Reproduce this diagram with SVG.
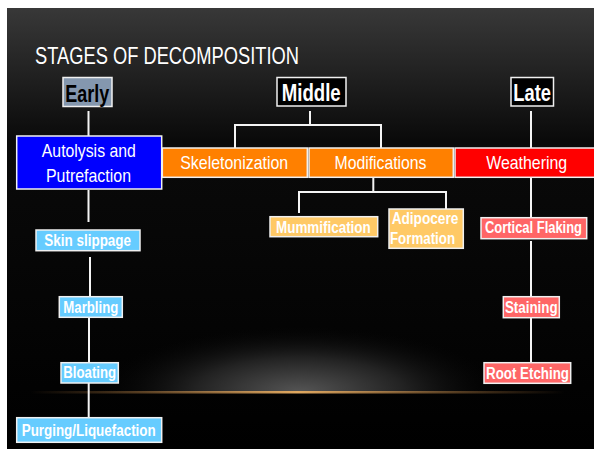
<svg xmlns="http://www.w3.org/2000/svg" width="594" height="449" viewBox="0 0 594 449">
<defs>
<linearGradient id="bgTop" x1="0" y1="0" x2="0" y2="1">
<stop offset="0" stop-color="#383838"/>
<stop offset="0.3" stop-color="#0a0a0a"/>
<stop offset="1" stop-color="#000"/>
</linearGradient>
<radialGradient id="glow" cx="300" cy="392" r="210" gradientUnits="userSpaceOnUse" gradientTransform="translate(300 392) scale(1 0.33) translate(-300 -392)">
<stop offset="0" stop-color="#555"/>
<stop offset="0.5" stop-color="#222"/>
<stop offset="1" stop-color="#000" stop-opacity="0"/>
</radialGradient>
<linearGradient id="gold" x1="0" y1="0" x2="1" y2="0">
<stop offset="0" stop-color="#c08040" stop-opacity="0"/>
<stop offset="0.5" stop-color="#e0a860"/>
<stop offset="1" stop-color="#c08040" stop-opacity="0"/>
</linearGradient>
<clipPath id="above"><rect x="7" y="8" width="587" height="384"/></clipPath>
<style>
.box{stroke:#f0f0f0;stroke-width:1.5}
.conn path{fill:none;stroke:#f4f4f4;stroke-width:2}
text{font-family:"Liberation Sans",Arial,sans-serif;fill:#fff;text-anchor:middle}
.hdr{font-weight:bold;font-size:23px}
.lvl2{font-size:19px}
.lvl3{font-weight:bold;font-size:16px}
</style>
</defs>
<rect x="0" y="0" width="594" height="449" fill="#fff"/>
<rect x="7" y="8" width="587" height="441" fill="url(#bgTop)"/>
<rect x="7" y="300" width="587" height="92" fill="url(#glow)" clip-path="url(#above)"/>
<rect x="30" y="391" width="535" height="2.5" fill="url(#gold)"/>
<text x="35" y="64" font-size="24" style="text-anchor:start" textLength="264" lengthAdjust="spacingAndGlyphs">STAGES OF DECOMPOSITION</text>
<g class="conn">
<path d="M88.5 111V136"/>
<path d="M88.5 190V222"/>
<path d="M90 257V297"/>
<path d="M89 317V363"/>
<path d="M88.7 383V418"/>
<path d="M310 111V125"/>
<path d="M235 148V125H381V148"/>
<path d="M373.3 177V192"/>
<path d="M299 213V192H446V209"/>
<path d="M531 111V148"/>
<path d="M531 177V218"/>
<path d="M531 241V297"/>
<path d="M531 318V363"/>
</g>
<g id="early"><rect class="box" x="63" y="77.5" width="49" height="29" fill="#8497ae"/><text class="hdr" x="87.3" y="101.5" style="fill:#000" textLength="44" lengthAdjust="spacingAndGlyphs">Early</text></g>
<g id="middle"><rect class="box" x="277" y="77.5" width="69" height="28.5" fill="#000"/><text class="hdr" x="311.2" y="100.7" textLength="59" lengthAdjust="spacingAndGlyphs">Middle</text></g>
<g id="late"><rect class="box" x="511" y="77.5" width="42.5" height="28.5" fill="#000"/><text class="hdr" x="532.2" y="100.7" textLength="37.7" lengthAdjust="spacingAndGlyphs">Late</text></g>
<g id="autolysis"><rect class="box" x="16.7" y="136" width="145" height="53" fill="#0000ff"/><text class="lvl2" x="88.8" y="157.3" textLength="94" lengthAdjust="spacingAndGlyphs">Autolysis and</text><text class="lvl2" x="88.5" y="181.7" textLength="85" lengthAdjust="spacingAndGlyphs">Putrefaction</text></g>
<g id="skeletonization"><rect class="box" x="162.3" y="148" width="145" height="29.3" fill="#ff8000"/><text class="lvl2" x="234.2" y="169.3" textLength="108" lengthAdjust="spacingAndGlyphs">Skeletonization</text></g>
<g id="modifications"><rect class="box" x="309" y="148" width="144.3" height="29.3" fill="#ff8000"/><text class="lvl2" x="380.5" y="169.3" textLength="92" lengthAdjust="spacingAndGlyphs">Modifications</text></g>
<g id="weathering"><rect class="box" x="455" y="148" width="140" height="29.3" fill="#ff0000"/><text class="lvl2" x="526.7" y="169.3" textLength="81" lengthAdjust="spacingAndGlyphs">Weathering</text></g>
<g id="skin"><rect class="box" x="36" y="230" width="104" height="20.7" fill="#66ccff"/><text class="lvl3" x="87.7" y="245.5" textLength="86.7" lengthAdjust="spacingAndGlyphs">Skin slippage</text></g>
<g id="marbling"><rect class="box" x="59.3" y="296.7" width="63" height="20.6" fill="#66ccff"/><text class="lvl3" x="90.8" y="312.7" textLength="55" lengthAdjust="spacingAndGlyphs">Marbling</text></g>
<g id="bloating"><rect class="box" x="61" y="362.7" width="57.3" height="20.3" fill="#66ccff"/><text class="lvl3" x="89.7" y="378.3" textLength="52.7" lengthAdjust="spacingAndGlyphs">Bloating</text></g>
<g id="purging"><rect class="box" x="16.7" y="417.7" width="145" height="24.6" fill="#66ccff"/><text class="lvl3" x="88.7" y="435.7" textLength="134" lengthAdjust="spacingAndGlyphs">Purging/Liquefaction</text></g>
<g id="mummification"><rect class="box" x="270" y="216.7" width="107.7" height="20" fill="#ffc966"/><text class="lvl3" x="323.4" y="232.7" textLength="94.7" lengthAdjust="spacingAndGlyphs">Mummification</text></g>
<g id="adipocere"><rect class="box" x="389" y="209" width="74.3" height="39.3" fill="#ffc966"/><text class="lvl3" x="425" y="224.3" textLength="66.7" lengthAdjust="spacingAndGlyphs">Adipocere</text><text class="lvl3" x="422.5" y="244" textLength="65" lengthAdjust="spacingAndGlyphs">Formation</text></g>
<g id="cortical"><rect class="box" x="481" y="217.7" width="105.7" height="21" fill="#ff6666"/><text class="lvl3" x="533.5" y="233.3" font-size="15.5" textLength="97" lengthAdjust="spacingAndGlyphs">Cortical Flaking</text></g>
<g id="staining"><rect class="box" x="503.3" y="296.7" width="56" height="21" fill="#ff6666"/><text class="lvl3" x="531.3" y="313.3" textLength="52.7" lengthAdjust="spacingAndGlyphs">Staining</text></g>
<g id="root"><rect class="box" x="484" y="362.7" width="86.7" height="20.6" fill="#ff6666"/><text class="lvl3" x="527.5" y="379" textLength="83" lengthAdjust="spacingAndGlyphs">Root Etching</text></g>
</svg>
